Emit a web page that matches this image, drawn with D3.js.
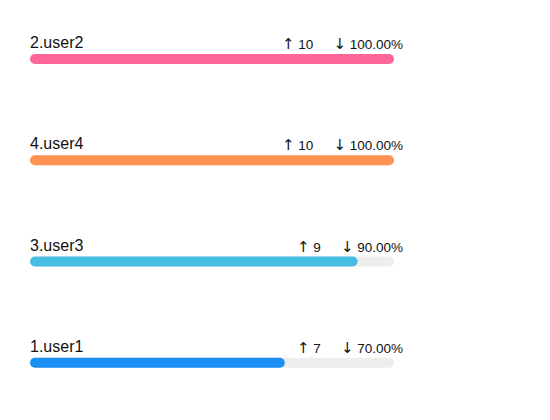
<!DOCTYPE html>
<html>
<head>
<meta charset="utf-8">
<script src="https://cdn.jsdelivr.net/npm/d3@7"></script>
<style>
  html, body { margin: 0; padding: 0; background: #fff; }
  text { font-family: "Liberation Sans", Arial, sans-serif; fill: #111; }
  tspan.arrow { font-family: "DejaVu Sans", sans-serif; font-size: 15px; }
</style>
</head>
<body>
<svg id="chart" width="550" height="420"></svg>
<script>
// Ranking rows, top to bottom
const names = ["2.user2", "4.user4", "3.user3", "1.user1"];
const counts = [10, 10, 9, 7];
const percents = [100, 100, 90, 70];
const colors = ["#fe6599", "#ff9152", "#48bde3", "#1c8ff5"];

const svg = d3.select("#chart");
const left = 30, right = 394, barH = 10;

const x = d3.scaleLinear().domain([0, 100]).range([left, right]);
const y = d3.scaleBand().domain(names).range([54, 459]).paddingInner(0).align(0);

const rows = svg.selectAll("g.row")
  .data(names.map((n, i) => ({ name: n, count: counts[i], pct: percents[i], color: colors[i] })))
  .join("g")
  .attr("class", "row")
  .attr("transform", d => `translate(0,${y(d.name)})`);

// track
rows.append("rect")
  .attr("x", x(0)).attr("y", 0)
  .attr("width", x(100) - x(0)).attr("height", barH)
  .attr("rx", barH / 2)
  .attr("fill", "#eeeeee");

// value bar
rows.append("rect")
  .attr("x", x(0)).attr("y", 0)
  .attr("width", d => x(d.pct) - x(0)).attr("height", barH)
  .attr("rx", barH / 2)
  .attr("fill", d => d.color);

// name
rows.append("text")
  .attr("x", left).attr("y", -6)
  .attr("font-size", 16)
  .text(d => d.name);

// percentage, right aligned
rows.each(function(d) {
  const g = d3.select(this);
  const pct = g.append("text")
    .attr("x", 403).attr("y", -5)
    .attr("text-anchor", "end")
    .attr("font-size", 13.5);
  pct.append("tspan").attr("class", "arrow").text("↓");
  pct.append("tspan").text(" " + d.pct.toFixed(2) + "%");
  const w = pct.node().getComputedTextLength();

  // count, placed before the percentage
  const cnt = g.append("text")
    .attr("x", 403 - w - 20).attr("y", -5)
    .attr("text-anchor", "end")
    .attr("font-size", 13.5);
  cnt.append("tspan").attr("class", "arrow").text("↑");
  cnt.append("tspan").text(" " + d.count);
});
</script>
</body>
</html>
